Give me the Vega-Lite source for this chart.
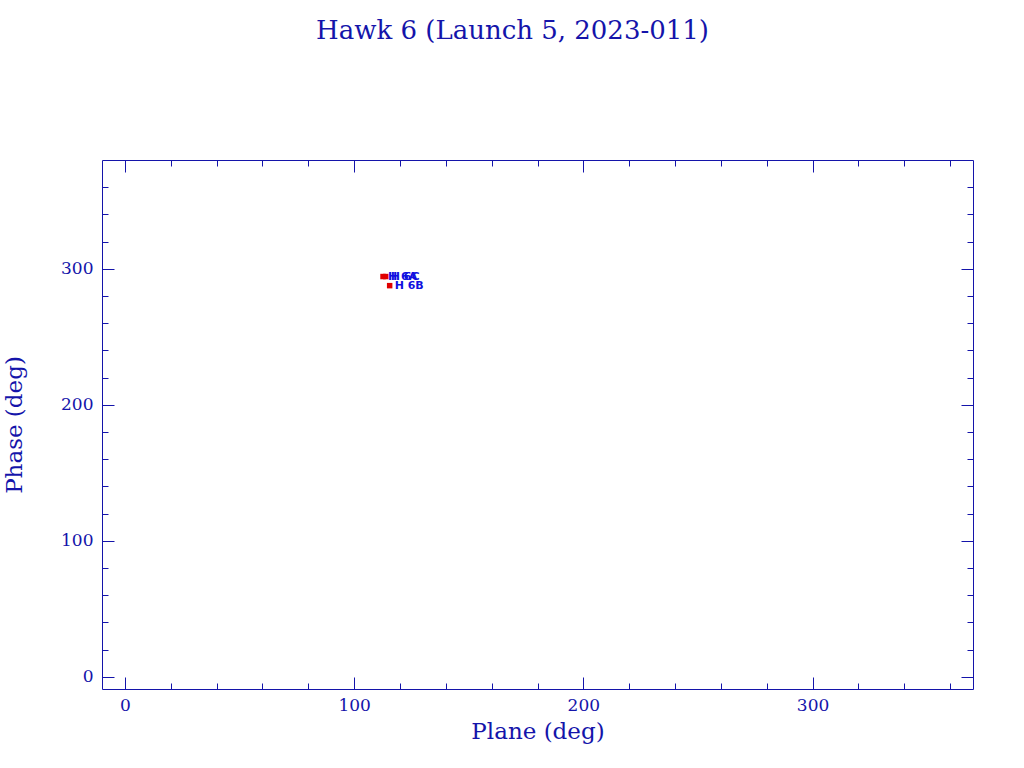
{
  "$schema": "https://vega.github.io/schema/vega-lite/v6.json",
  "width": 871,
  "height": 529,
  "autosize": {"type": "none"},
  "padding": {"left": 102, "top": 160, "right": 51, "bottom": 79},
  "background": "white",
  "title": {
    "text": "Hawk 6 (Launch 5, 2023-011)",
    "font": "DejaVu Serif",
    "fontSize": 26,
    "fontWeight": "normal",
    "color": "#1414aa",
    "anchor": "middle",
    "offset": 116,
    "dx": -25
  },
  "config": {
    "view": {"stroke": "#1414aa", "strokeWidth": 1},
    "axis": {
      "domain": false,
      "grid": false,
      "tickColor": "#1414aa",
      "labelColor": "#1414aa",
      "titleColor": "#1414aa",
      "labelFont": "DejaVu Serif",
      "titleFont": "DejaVu Serif",
      "labelFontSize": 17,
      "titleFontSize": 23,
      "titleFontWeight": "normal",
      "labelPadding": 8
    }
  },
  "data": {
    "values": [
      {"sat": "Hawk 6A", "label": "H 6A", "plane": 112.6, "phase": 294.3},
      {"sat": "Hawk 6C", "label": "H 6C", "plane": 113.8, "phase": 294.3},
      {"sat": "Hawk 6B", "label": "H 6B", "plane": 115.5, "phase": 287.6}
    ]
  },
  "layer": [
    {
      "mark": {"type": "square", "filled": true, "color": "#e00000", "size": 30, "opacity": 1},
      "encoding": {
        "x": {"field": "plane", "type": "quantitative", "scale": {"domain": [-10, 370], "nice": false, "zero": false},
          "axis": {"orient": "bottom", "values": [0, 100, 200, 300], "tickSize": -12, "labelPadding": 20, "title": "Plane (deg)", "titlePadding": 7}},
        "y": {"field": "phase", "type": "quantitative", "scale": {"domain": [-9, 380], "nice": false, "zero": false},
          "axis": {"orient": "left", "values": [0, 100, 200, 300], "tickSize": -12, "labelPadding": 21, "title": "Phase (deg)", "titlePadding": 34}}
      }
    },
    {
      "mark": {"type": "text", "align": "left", "baseline": "middle", "dx": 5, "font": "DejaVu Sans", "fontSize": 11, "fontWeight": "bold", "color": "#1010e0"},
      "encoding": {
        "x": {"field": "plane", "type": "quantitative", "scale": {"domain": [-10, 370], "nice": false, "zero": false},
          "axis": {"orient": "bottom", "values": [20, 40, 60, 80, 120, 140, 160, 180, 220, 240, 260, 280, 320, 340, 360], "tickSize": -6, "labels": false, "title": null}},
        "y": {"field": "phase", "type": "quantitative", "scale": {"domain": [-9, 380], "nice": false, "zero": false},
          "axis": {"orient": "left", "values": [20, 40, 60, 80, 120, 140, 160, 180, 220, 240, 260, 280, 320, 340, 360], "tickSize": -6, "labels": false, "title": null}},
        "text": {"field": "label"}
      }
    },
    {
      "mark": {"type": "point", "opacity": 0},
      "encoding": {
        "x": {"field": "plane", "type": "quantitative", "scale": {"domain": [-10, 370], "nice": false, "zero": false},
          "axis": {"orient": "top", "values": [0, 100, 200, 300], "tickSize": -12, "labels": false, "title": null}},
        "y": {"field": "phase", "type": "quantitative", "scale": {"domain": [-9, 380], "nice": false, "zero": false},
          "axis": {"orient": "right", "values": [0, 100, 200, 300], "tickSize": -12, "labels": false, "title": null}}
      }
    },
    {
      "mark": {"type": "point", "opacity": 0},
      "encoding": {
        "x": {"field": "plane", "type": "quantitative", "scale": {"domain": [-10, 370], "nice": false, "zero": false},
          "axis": {"orient": "top", "values": [20, 40, 60, 80, 120, 140, 160, 180, 220, 240, 260, 280, 320, 340, 360], "tickSize": -6, "labels": false, "title": null}},
        "y": {"field": "phase", "type": "quantitative", "scale": {"domain": [-9, 380], "nice": false, "zero": false},
          "axis": {"orient": "right", "values": [20, 40, 60, 80, 120, 140, 160, 180, 220, 240, 260, 280, 320, 340, 360], "tickSize": -6, "labels": false, "title": null}}
      }
    }
  ],
  "resolve": {
    "scale": {"x": "independent", "y": "independent"},
    "axis": {"x": "independent", "y": "independent"}
  }
}
